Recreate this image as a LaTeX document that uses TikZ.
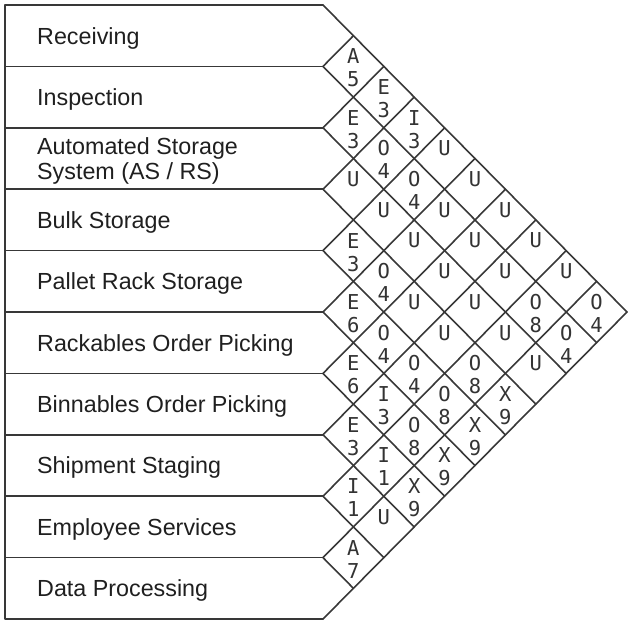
\documentclass[tikz,border=0pt]{standalone}
\usepackage{fontspec}
\setmainfont{Liberation Sans}
\newfontfamily\codefont{DejaVu Sans Mono}
\begin{document}
\begin{tikzpicture}[x=1pt,y=-1pt,
  grid/.style={line width=1.6pt, draw=black!78, line join=round, line cap=round},
  activity/.style={anchor=base west, inner sep=0pt, align=left, text=black!88,
    font=\fontsize{23.3}{25}\selectfont},
  code/.style={inner sep=0pt, text=black!80, font=\codefont\fontsize{20.5}{21}\selectfont}]
\useasboundingbox (0,0) rectangle (628,622);
% chart geometry: left edge, box edge, half cell width, top, row height
\def\xl{5}
\def\xo{323}
\def\hw{30.4}
\def\ytop{5}
\def\rh{61.4}
% row boundary points on the left frame and at the box edge
\foreach \k in {0,...,10}{
  \coordinate (L\k) at (\xl, {\ytop+\k*\rh});
  \coordinate (B\k) at (\xo, {\ytop+\k*\rh});
}
% outer frame and row separators
\draw[grid] (B0) -- (L0) -- (L10) -- (B10);
\foreach \k in {1,...,9}
  \draw[grid] (L\k) -- (B\k);
% diagonal grid of the relationship matrix
\foreach \k in {0,...,9}
  \draw[grid] (B\k) -- ++({(10-\k)*\hw}, {(10-\k)*\rh/2});
\foreach \k in {1,...,10}
  \draw[grid] (B\k) -- ++({\k*\hw}, {-\k*\rh/2});
% activity names, baseline just below the middle of each row
\foreach \i/\name in {1/Receiving, 2/Inspection, 4/Bulk Storage,
    5/Pallet Rack Storage, 6/Rackables Order Picking,
    7/Binnables Order Picking, 8/Shipment Staging,
    9/Employee Services, 10/Data Processing}
  \node[activity] (act\i) at (37, {\ytop+(\i-0.5)*\rh+8.3}) {\name};
\node[activity, anchor=north west] (act3) at (37, {\ytop+2.5*\rh-21})
  {Automated Storage\\System (AS / RS)};
% closeness ratings (letter) and reasons (number)
\foreach \i/\j/\rel/\why in {
    1/2/A/5, 2/3/E/3, 3/4/U/, 4/5/E/3, 5/6/E/6, 6/7/E/6, 7/8/E/3, 8/9/I/1, 9/10/A/7,
    1/3/E/3, 2/4/O/4, 3/5/U/, 4/6/O/4, 5/7/O/4, 6/8/I/3, 7/9/I/1, 8/10/U/,
    1/4/I/3, 2/5/O/4, 3/6/U/, 4/7/U/, 5/8/O/4, 6/9/O/8, 7/10/X/9,
    1/5/U/, 2/6/U/, 3/7/U/, 4/8/U/, 5/9/O/8, 6/10/X/9,
    1/6/U/, 2/7/U/, 3/8/U/, 4/9/O/8, 5/10/X/9,
    1/7/U/, 2/8/U/, 3/9/U/, 4/10/X/9,
    1/8/U/, 2/9/O/8, 3/10/U/,
    1/9/U/, 2/10/O/4,
    1/10/O/4}{
  \pgfmathsetmacro{\cx}{\xo+(\j-\i)*\hw}
  \pgfmathsetmacro{\cy}{\ytop+(\i+\j-1)*\rh/2}
  \node[code] (r\i-\j) at (\cx, \cy-10) {\rel};
  \node[code] (n\i-\j) at (\cx, \cy+13) {\why};
}
\end{tikzpicture}
\end{document}
